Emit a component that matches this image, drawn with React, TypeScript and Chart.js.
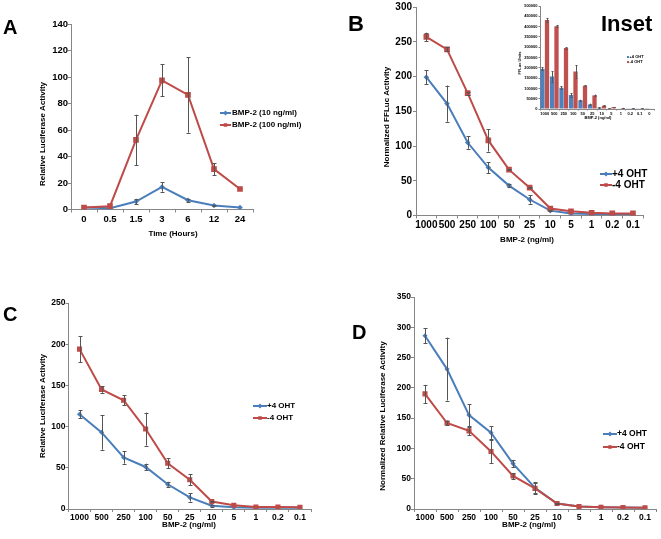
import React, { useEffect, useRef } from "react";
import { Chart, registerables } from "chart.js";

Chart.register(...registerables);

// ---------------- data ----------------
const timeLabels = ["0", "0.5", "1.5", "3", "6", "12", "24"];
const aLow = [1.5, 1, 6, 17, 7, 3, 1.5];
const aLowErr = [0, 0, 2, 3.5, 1, 0.5, 0];
const aHigh = [1.5, 2.5, 52.5, 97.5, 86.5, 30.5, 15.5];
const aHighErr = [0, 0, 19, 12, 28.5, 4.5, 0];

const doseLabels = ["1000", "500", "250", "100", "50", "25", "10", "5", "1", "0.2", "0.1"];
const bPlus = [199, 161, 105, 69, 43, 23, 7, 3, 2, 2, 2];
const bPlusErr = [10, 26, 9, 8, 2, 6, 1, 0, 0, 0, 0];
const bMinus = [257, 239, 176, 108, 66, 40, 10, 6, 4, 3, 3];
const bMinusErr = [6, 3, 2, 16, 1, 1, 0, 0, 0, 0, 0];

const insetLabels = ["1000", "500", "250", "100", "50", "25", "10", "5", "1", "0.2", "0.1", "0"];
const insetPlus = [195000, 158000, 103000, 68000, 42000, 22000, 7000, 3000, 2000, 1500, 1500, 1000];
const insetPlusErr = [8000, 25000, 7000, 8000, 3000, 4000, 1500, 500, 0, 0, 0, 0];
const insetMinus = [432000, 402000, 296000, 182000, 113000, 66000, 16000, 9000, 5000, 4000, 3500, 2000];
const insetMinusErr = [10000, 6000, 4000, 30000, 3000, 4000, 3000, 1000, 500, 500, 500, 0];

const cPlus = [115, 93, 62.5, 51, 30, 14, 4, 2, 1.5, 1.5, 1.5];
const cPlusErr = [5, 21, 7.5, 4, 3, 5, 1, 0, 0, 0, 0];
const cMinus = [194, 145, 132, 97, 55.5, 35.5, 9, 4.5, 2.5, 2.5, 2];
const cMinusErr = [16, 4, 6, 20, 6, 6.5, 1, 0, 0, 0, 0];

const dPlus = [286, 231, 155, 126, 75, 35, 9, 4, 3, 2.5, 2];
const dPlusErr = [12, 52, 18, 11, 6, 8, 1, 0, 0, 0, 0];
const dMinus = [190, 142, 129, 95, 54.5, 34, 9, 4, 3, 2.5, 2];
const dMinusErr = [15, 4, 7, 19, 5, 10, 1, 0, 0, 0, 0];

// ---------------- styles ----------------
const FONT = "'Liberation Sans', Arial, sans-serif";
const BLUE = "#4A7EBB";
const RED = "#BE4B48";
const BAR_BLUE = "#4F81BD";
const BAR_RED = "#C0504D";
const AXIS = "#868686";
const ERR = "#555555";

type Series = {
  label: string;
  data: number[];
  err: number[];
  color: string;
  style: "rectRot" | "rect";
  radius: number;
  order: number;
};

type Cfg = {
  kind: "line" | "bar";
  left: number;
  top: number;
  w: number;
  h: number;
  plot: { l: number; r: number; t: number; b: number };
  labels: string[];
  series: Series[];
  yMax: number;
  yStep: number;
  tickSize: number;
  tickWeight: string;
  xTickLen: number;
  xTickPad: number;
  yTickLen: number;
  yTickPad: number;
  cap: number;
  lineWidth: number;
  xTitle: { text: string; x: number; y: number; size: number };
  yTitle: { text: string; x: number; y: number; size: number };
  legend: { x: number; rows: number[]; lineLen: number; size: number; gap: number; marker: number };
};

function drawMarker(ctx: CanvasRenderingContext2D, style: string, x: number, y: number, r: number, color: string) {
  ctx.fillStyle = color;
  ctx.beginPath();
  if (style === "rectRot") {
    ctx.moveTo(x, y - r);
    ctx.lineTo(x + r, y);
    ctx.lineTo(x, y + r);
    ctx.lineTo(x - r, y);
    ctx.closePath();
  } else {
    const s = r * Math.SQRT1_2;
    ctx.rect(x - s, y - s, 2 * s, 2 * s);
  }
  ctx.fill();
}

const decorPlugin = {
  id: "decor",
  afterDatasetsDraw(chart: any, _args: any, opts: any) {
    const ctx: CanvasRenderingContext2D = chart.ctx;
    const yScale = chart.scales.y;
    chart.data.datasets.forEach((ds: any, i: number) => {
      const meta = chart.getDatasetMeta(i);
      const errs: number[] = ds.errors || [];
      ctx.save();
      ctx.strokeStyle = ERR;
      ctx.lineWidth = 1;
      meta.data.forEach((el: any, j: number) => {
        const e = errs[j];
        if (!e) return;
        const v = ds.data[j];
        const x = Math.round(el.x) + 0.5;
        const y1 = yScale.getPixelForValue(v + e);
        const y2 = yScale.getPixelForValue(Math.max(0, v - e));
        ctx.beginPath();
        ctx.moveTo(x, y1);
        ctx.lineTo(x, y2);
        ctx.moveTo(x - opts.cap, Math.round(y1) + 0.5);
        ctx.lineTo(x + opts.cap, Math.round(y1) + 0.5);
        ctx.moveTo(x - opts.cap, Math.round(y2) + 0.5);
        ctx.lineTo(x + opts.cap, Math.round(y2) + 0.5);
        ctx.stroke();
      });
      ctx.restore();
    });
  },
  afterDraw(chart: any, _args: any, opts: any) {
    const ctx: CanvasRenderingContext2D = chart.ctx;
    ctx.save();
    ctx.fillStyle = "#000";
    ctx.textAlign = "center";
    ctx.textBaseline = "middle";
    const xt = opts.xTitle;
    ctx.font = `bold ${xt.size}px ${FONT}`;
    ctx.fillText(xt.text, xt.x, xt.y);
    const yt = opts.yTitle;
    ctx.font = `bold ${yt.size}px ${FONT}`;
    ctx.translate(yt.x, yt.y);
    ctx.rotate(-Math.PI / 2);
    ctx.fillText(yt.text, 0, 0);
    ctx.restore();

    // legend
    const lg = opts.legend;
    ctx.save();
    ctx.textAlign = "left";
    ctx.textBaseline = "middle";
    ctx.font = `bold ${lg.size}px ${FONT}`;
    const list = chart.data.datasets.slice().sort((a: any, b: any) => a.legendIndex - b.legendIndex);
    list.forEach((ds: any, k: number) => {
      const y = lg.rows[k];
      const color = ds.legendColor;
      if (opts.kind === "line") {
        ctx.strokeStyle = color;
        ctx.lineWidth = opts.lineWidth;
        ctx.beginPath();
        ctx.moveTo(lg.x, y);
        ctx.lineTo(lg.x + lg.lineLen, y);
        ctx.stroke();
        drawMarker(ctx, ds.pointStyle, lg.x + lg.lineLen / 2, y, lg.marker, color);
      } else {
        ctx.fillStyle = color;
        ctx.fillRect(lg.x, y - lg.marker, lg.lineLen, lg.marker * 2);
      }
      ctx.fillStyle = "#000";
      ctx.fillText(ds.label, lg.x + lg.lineLen + lg.gap, y);
    });
    ctx.restore();
  },
};

function buildConfig(cfg: Cfg): any {
  const tickFont = { family: FONT, size: cfg.tickSize, weight: cfg.tickWeight };
  const xH = cfg.h - cfg.plot.b;
  const yW = cfg.plot.l;
  const datasets = cfg.series.map((s, idx) => {
    if (cfg.kind === "line") {
      return {
        type: "line",
        label: s.label,
        data: s.data,
        errors: s.err,
        borderColor: s.color,
        backgroundColor: s.color,
        borderWidth: cfg.lineWidth,
        pointStyle: s.style,
        pointRadius: s.radius,
        pointHoverRadius: s.radius,
        pointBackgroundColor: s.color,
        pointBorderColor: s.color,
        pointBorderWidth: 0,
        tension: 0,
        fill: false,
        order: s.order,
        legendIndex: idx,
        legendColor: s.color,
      };
    }
    return {
      type: "bar",
      label: s.label,
      data: s.data,
      errors: s.err,
      backgroundColor: s.color,
      borderWidth: 0,
      categoryPercentage: 0.95,
      barPercentage: 0.95,
      order: s.order,
      legendIndex: idx,
      legendColor: s.color,
      pointStyle: s.style,
    };
  });
  return {
    type: cfg.kind,
    data: { labels: cfg.labels, datasets },
    plugins: [decorPlugin],
    options: {
      responsive: false,
      animation: false,
      devicePixelRatio: 1,
      events: [],
      layout: {
        padding: { left: 0, top: cfg.plot.t, right: cfg.w - cfg.plot.r, bottom: 0 },
      },
      plugins: {
        legend: { display: false },
        tooltip: { enabled: false },
        title: { display: false },
        decor: {
          cap: cfg.cap,
          kind: cfg.kind,
          lineWidth: cfg.lineWidth,
          xTitle: cfg.xTitle,
          yTitle: cfg.yTitle,
          legend: cfg.legend,
        },
      },
      scales: {
        x: {
          type: "category",
          offset: true,
          grid: {
            display: true,
            offset: true,
            drawOnChartArea: false,
            drawTicks: true,
            tickLength: cfg.xTickLen,
            color: AXIS,
            lineWidth: 1,
          },
          border: { display: true, color: AXIS, width: 1 },
          ticks: {
            font: tickFont,
            color: "#000",
            padding: cfg.xTickPad,
            autoSkip: false,
            minRotation: 0,
            maxRotation: 0,
          },
          afterFit: (s: any) => {
            s.height = xH;
          },
        },
        y: {
          type: "linear",
          min: 0,
          max: cfg.yMax,
          grid: {
            display: true,
            drawOnChartArea: false,
            drawTicks: true,
            tickLength: cfg.yTickLen,
            color: AXIS,
            lineWidth: 1,
          },
          border: { display: true, color: AXIS, width: 1 },
          ticks: {
            stepSize: cfg.yStep,
            font: tickFont,
            color: "#000",
            padding: cfg.yTickPad,
            autoSkip: false,
            callback: (v: any) => String(v),
          },
          afterFit: (s: any) => {
            s.width = yW;
          },
        },
      },
    },
  };
}

function ChartPanel({ cfg }: { cfg: Cfg }) {
  const ref = useRef<HTMLCanvasElement>(null);
  useEffect(() => {
    const chart = new Chart(ref.current as HTMLCanvasElement, buildConfig(cfg));
    return () => chart.destroy();
  }, []);
  return (
    <canvas
      ref={ref}
      width={cfg.w}
      height={cfg.h}
      style={{ position: "absolute", left: cfg.left, top: cfg.top, width: cfg.w, height: cfg.h }}
    />
  );
}

function Label({ text, x, baseline, size }: { text: string; x: number; baseline: number; size: number }) {
  return (
    <div
      style={{
        position: "absolute",
        left: x,
        top: baseline - 0.8465 * size,
        fontFamily: FONT,
        fontWeight: "bold",
        fontSize: size,
        lineHeight: 1,
        color: "#000",
        whiteSpace: "nowrap",
      }}
    >
      {text}
    </div>
  );
}

const plusMinus = (plus: number[], plusErr: number[], minus: number[], minusErr: number[], r1: number, r2: number): Series[] => [
  { label: "+4 OHT", data: plus, err: plusErr, color: BLUE, style: "rectRot", radius: r1, order: 1 },
  { label: "-4 OHT", data: minus, err: minusErr, color: RED, style: "rect", radius: r2, order: 0 },
];

const panelA: Cfg = {
  kind: "line",
  left: 0, top: 0, w: 330, h: 250,
  plot: { l: 71, r: 253, t: 24, b: 209.5 },
  labels: timeLabels,
  series: [
    { label: "BMP-2 (10 ng/ml)", data: aLow, err: aLowErr, color: BLUE, style: "rectRot", radius: 2.8, order: 1 },
    { label: "BMP-2 (100 ng/ml)", data: aHigh, err: aHighErr, color: RED, style: "rect", radius: 4, order: 0 },
  ],
  yMax: 140, yStep: 20,
  tickSize: 9.5, tickWeight: "bold",
  xTickLen: 3, xTickPad: 1, yTickLen: 3, yTickPad: 0,
  cap: 2, lineWidth: 2,
  xTitle: { text: "Time (Hours)", x: 173, y: 234, size: 8 },
  yTitle: { text: "Relative Luciferase Activity", x: 43, y: 134, size: 8 },
  legend: { x: 220, rows: [113, 125], lineLen: 11, size: 8, gap: 1, marker: 2.5 },
};

const panelB: Cfg = {
  kind: "line",
  left: 330, top: 0, w: 331, h: 250,
  plot: { l: 86, r: 313.3, t: 6, b: 215.5 },
  labels: doseLabels,
  series: plusMinus(bPlus, bPlusErr, bMinus, bMinusErr, 2.8, 4),
  yMax: 300, yStep: 50,
  tickSize: 10, tickWeight: "bold",
  xTickLen: 3, xTickPad: 1, yTickLen: 3, yTickPad: 1,
  cap: 2, lineWidth: 2,
  xTitle: { text: "BMP-2 (ng/ml)", x: 197, y: 240, size: 8 },
  yTitle: { text: "Normalized FFLuc Activity", x: 57, y: 117, size: 8 },
  legend: { x: 270, rows: [174, 185], lineLen: 12, size: 10, gap: 0, marker: 2.5 },
};

const panelInset: Cfg = {
  kind: "bar",
  left: 505, top: 0, w: 156, h: 125,
  plot: { l: 35, r: 149, t: 6, b: 109 },
  labels: insetLabels,
  series: [
    { label: "+4 OHT", data: insetPlus, err: insetPlusErr, color: BAR_BLUE, style: "rect", radius: 1, order: 0 },
    { label: "-4 OHT", data: insetMinus, err: insetMinusErr, color: BAR_RED, style: "rect", radius: 1, order: 1 },
  ],
  yMax: 500000, yStep: 50000,
  tickSize: 4, tickWeight: "bold",
  xTickLen: 1.5, xTickPad: 0.5, yTickLen: 1.5, yTickPad: 1,
  cap: 1, lineWidth: 1,
  xTitle: { text: "BMP-2 (ng/ml)", x: 93, y: 118, size: 4 },
  yTitle: { text: "FFLuc Units", x: 15, y: 63, size: 4 },
  legend: { x: 122, rows: [57, 62], lineLen: 2, size: 4, gap: 0.5, marker: 1 },
};

const panelC: Cfg = {
  kind: "line",
  left: 0, top: 260, w: 330, h: 279,
  plot: { l: 68.5, r: 311, t: 43, b: 249 },
  labels: doseLabels,
  series: plusMinus(cPlus, cPlusErr, cMinus, cMinusErr, 2.6, 3.6),
  yMax: 250, yStep: 50,
  tickSize: 8.5, tickWeight: "bold",
  xTickLen: 3, xTickPad: 1, yTickLen: 3, yTickPad: 0,
  cap: 2, lineWidth: 2,
  xTitle: { text: "BMP-2 (ng/ml)", x: 189, y: 265, size: 8 },
  yTitle: { text: "Relative Luciferase Activity", x: 43, y: 146, size: 8 },
  legend: { x: 253, rows: [146, 158], lineLen: 14, size: 8, gap: 0, marker: 2.5 },
};

const panelD: Cfg = {
  kind: "line",
  left: 330, top: 260, w: 331, h: 279,
  plot: { l: 84, r: 326, t: 37, b: 249 },
  labels: doseLabels,
  series: plusMinus(dPlus, dPlusErr, dMinus, dMinusErr, 2.6, 3.6),
  yMax: 350, yStep: 50,
  tickSize: 8.5, tickWeight: "bold",
  xTickLen: 3, xTickPad: 1, yTickLen: 3, yTickPad: 0,
  cap: 2, lineWidth: 2,
  xTitle: { text: "BMP-2 (ng/ml)", x: 199, y: 265, size: 8 },
  yTitle: { text: "Normalized Relative Luciferase Activity", x: 53, y: 156, size: 8 },
  legend: { x: 273, rows: [174, 187], lineLen: 14, size: 8.5, gap: 0, marker: 2.5 },
};

export default function App() {
  return (
    <div
      style={{
        position: "absolute",
        left: 0,
        top: 0,
        width: 661,
        height: 539,
        background: "#fff",
        overflow: "hidden",
      }}
    >
      <ChartPanel cfg={panelA} />
      <ChartPanel cfg={panelB} />
      <ChartPanel cfg={panelC} />
      <ChartPanel cfg={panelD} />
      <ChartPanel cfg={panelInset} />
      <Label text="A" x={3} baseline={34} size={20} />
      <Label text="B" x={348} baseline={32} size={22} />
      <Label text="C" x={3} baseline={321} size={20} />
      <Label text="D" x={352} baseline={339} size={20} />
      <Label text="Inset" x={601} baseline={32} size={22} />
    </div>
  );
}
